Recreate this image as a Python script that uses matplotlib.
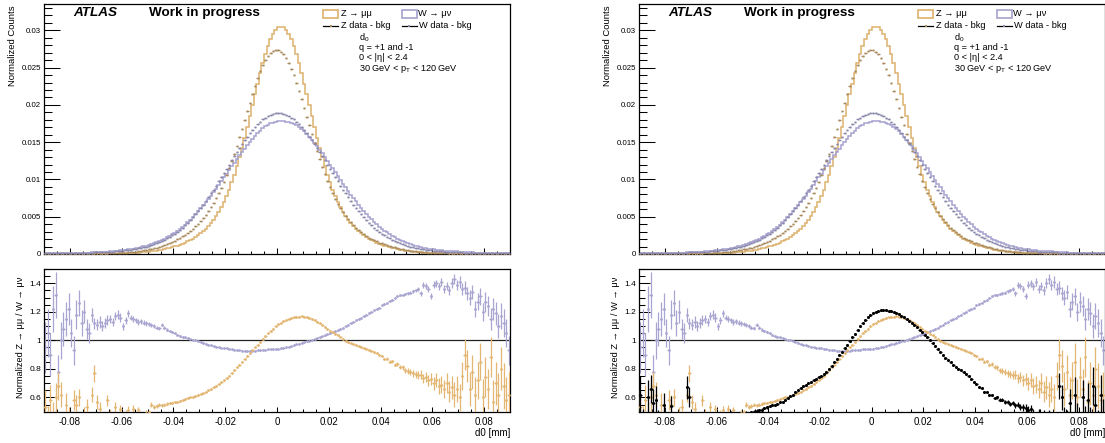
import numpy as np
import matplotlib
matplotlib.use("Agg")
import matplotlib.pyplot as plt
from matplotlib.ticker import MultipleLocator, FuncFormatter
from matplotlib.patches import Rectangle
from matplotlib.lines import Line2D

plt.rcParams['font.family'] = ['Liberation Sans', 'DejaVu Sans']
plt.rcParams['mathtext.fontset'] = 'custom'
plt.rcParams['mathtext.rm'] = 'Liberation Sans'
plt.rcParams['mathtext.it'] = 'Liberation Sans:italic'
plt.rcParams['mathtext.default'] = 'regular'
plt.rcParams['axes.unicode_minus'] = False

# ---------------- data ----------------
BIN_LO = -0.09
BIN_W = 0.001
N_BINS = 180

# top panel: normalized counts, in units of 1e-5
Z_MC_E5 = [0,0,0,0,0,0,0,0,0,0,0,0,0,
 0,0,0,1,1, 1,1,2,2,2, 3,3,4,4,5, 6,7,8,9,11, 12,14,16,19,22,
 25,28,32,36,41, 46,52,59,66,74, 83,92,102,114,126, 139,154,170,188,207,
 228,252,278,306,338, 374,414,459,510,566, 629,700,778,864,960, 1064,1176,1297,1426,1562,
 1703,1848,1995,2143,2287, 2427,2558,2679,2786,2878, 2952,3006,3039,3050,3039,
 3006,2952,2878,2786,2679, 2558,2427,2287,2143,1995, 1848,1703,1562,1426,1297,
 1176,1064,960,864,778, 700,629,566,510,459, 414,374,338,306,278, 252,228,207,188,170,
 154,139,126,114,102, 92,83,74,66,59, 52,46,41,36,32, 28,25,22,19,16,
 14,12,11,9,8, 7,6,5,4,4, 3,3,2,2,2, 1,1,1,1,0, 0,0,0,0,0, 0,0,0,0,0,0,0]

Z_DATA_E5 = [1,1,1,1,1,1,1,1,1,1,1,1,1,
 1,1,2,2,2, 2,2,4,4,4, 6,6,8,8,10, 12,14,16,18,22, 24,28,32,38,44,
 51,57,64,68,77, 85,95,108,120,133, 148,164,180,200,219, 240,261,286,313,342,
 374,408,445,484,528, 575,627,685,750,817, 891,972,1059,1149,1247, 1347,1452,1563,1678,1795,
 1913,2031,2145,2256,2358, 2452,2533,2601,2653,2697, 2726,2738,2733,2714,2678,
 2628,2565,2487,2398,2300, 2192,2078,1961,1844,1724, 1607,1491,1380,1273,1172,
 1075,985,899,817,743, 675,614,560,512,466, 423,385,350,319,291, 266,242,221,203,185,
 169,154,142,130,118, 108,98,89,80,72, 65,58,52,46,42, 37,33,29,26,22,
 19,17,15,13,11, 10,9,7,6,6, 5,5,3,3,3, 2,2,2,1,1, 1,1,1,1,1, 1,1,1,1,1,1,1]

W_MC_E5 = [7,8,8,8,9,9,10,12,12,13, 14,14,15,16,17,18,19,20,22,24,
 25,27,28,31,33,35,38,41,45,48, 52,56,61,67,72,79,85,93,101,111,
 120,132,144,157,172,187,204,224,244,265, 288,311,336,364,395,426,461,495,533,572,
 613,652,695,738,784,829,878,926,977,1027, 1078,1128,1177,1226,1274,1322,1367,1413,1457,1500,
 1542,1583,1621,1655,1687,1712,1733,1751,1763,1773, 1778,1780,1778,1776,1767,1756,1743,1724,1703,1677,
 1645,1611,1572,1531,1488,1444,1398,1350,1300,1250, 1200,1148,1096,1043,991,942,893,845,796,750,
 706,661,618,577,538,500,464,430,398,368, 341,314,290,266,244,225,207,189,173,158,
 144,132,121,111,102,94,86,80,73,68, 63,59,55,50,46,44,41,38,35,34,
 31,29,27,26,24,22,20,19,17,16, 16,14,13,13,12,10,10,9,9,8]

W_DATA_E5 = [7,8,8,8,9,9,10,11,11,12, 13,13,14,15,16,17,18,19,20,21,
 22,24,25,27,29,31,33,36,39,42, 45,49,53,58,63,69,75,82,90,99,
 108,119,131,144,158,173,190,209,229,250, 274,299,326,355,387,420,456,493,533,575,
 619,664,711,761,812,864,918,973,1029,1086, 1143,1200,1256,1313,1368,1423,1475,1526,1575,1622,
 1665,1706,1743,1776,1806,1831,1852,1869,1880,1888, 1890,1888,1880,1869,1852,1831,1806,1776,1743,1706,
 1665,1622,1575,1526,1475,1423,1368,1313,1256,1200, 1143,1086,1029,973,918,864,812,761,711,664,
 619,575,533,493,456,420,387,355,326,299, 274,250,229,209,190,173,158,144,131,119,
 108,99,90,82,75,69,63,58,53,49, 45,42,39,36,33,31,29,27,25,24,
 22,21,20,19,18,17,16,15,14,13, 13,12,11,11,10,9,9,8,8,8]

# bottom panel ratios
R_Z = [0.53,0.42,0.58,0.47,0.60,0.68,0.62,0.40,0.55,0.45,
 0.38,0.58,0.55,0.60,0.42,0.47,0.53,0.40,0.62,0.77,
 0.57,0.52,0.45,0.41,0.58,0.48,0.44,0.53,0.46,0.52,
 0.45,0.48,0.51,0.44,0.52,0.46,0.51,0.47,0.48,0.49,
 0.50,0.55,0.53,0.54,0.55,0.545,0.55,0.555,0.56,0.562,
 0.566,0.57,0.575,0.58,0.59,0.595,0.60,0.605,0.61,0.617,
 0.625,0.632,0.64,0.65,0.66,0.67,0.68,0.693,0.706,0.72,
 0.735,0.752,0.77,0.79,0.81,0.83,0.85,0.87,0.89,0.91,
 0.93,0.95,0.97,0.99,1.01,1.03,1.05,1.067,1.083,1.098,
 1.112,1.124,1.135,1.144,1.151,1.157,1.162,1.165,1.167,1.168,
 1.166,1.162,1.157,1.15,1.142,1.132,1.12,1.107,1.094,1.08,
 1.068,1.057,1.047,1.037,1.025,1.01,0.996,0.985,0.978,0.972,
 0.966,0.96,0.954,0.948,0.942,0.935,0.928,0.92,0.91,0.90,
 0.892,0.87,0.872,0.85,0.852,0.83,0.835,0.812,0.81,0.79,
 0.786,0.778,0.77,0.762,0.755,0.76,0.735,0.745,0.72,0.73,
 0.70,0.72,0.68,0.69,0.66,0.70,0.64,0.67,0.62,0.66,
 0.60,0.75,0.90,0.82,0.66,0.78,0.62,0.72,0.85,0.60,
 0.74,0.66,0.88,0.57,0.70,0.62,0.80,0.68,0.58,0.62]
R_Z_ERR = [.12,.12,.11,.10,.10,.10,.09,.08,.08,.08,
 .07,.07,.07,.06,.06,.06,.06,.05,.05,.06,
 .05,.05,.05,.04,.04,.04,.04,.035,.035,.03,
 .03,.03,.03,.025,.025,.025,.02,.02,.02,.02,
 .015,.015,.014,.013,.012,.011,.01,.01,.009,.008,
 .008,.007,.007,.007,.006,.006,.006,.006,.005,.005] + [.005]*66 + \
 [.006,.006,.007,.007,.008,.009,.01,.011,.012,.013,
 .014,.015,.016,.018,.02,.022,.024,.026,.028,.03,
 .032,.035,.038,.04,.045,.05,.055,.06,.065,.07,.075,.08,.085,.09,.095,
 .10,.11,.11,.12,.12,.12,.13,.13,.13,.14,.14,.14,.15,.15,.15,.15,.16,.16,.16]

R_W = [0.95,1.05,0.90,1.22,1.32,0.78,1.00,1.08,1.15,1.22,
 1.05,0.93,1.18,1.26,1.12,1.20,1.08,1.05,1.18,1.12,
 1.11,1.13,1.10,1.12,1.14,1.15,1.13,1.17,1.18,1.16,
 1.10,1.14,1.19,1.16,1.15,1.14,1.13,1.135,1.125,1.12,
 1.115,1.11,1.10,1.09,1.085,1.11,1.09,1.075,1.065,1.06,
 1.05,1.04,1.03,1.025,1.02,1.015,1.01,1.005,1.0,0.995,
 0.99,0.982,0.977,0.97,0.965,0.96,0.956,0.952,0.949,0.946,
 0.943,0.94,0.937,0.934,0.931,0.929,0.927,0.926,0.925,0.925,
 0.926,0.928,0.93,0.932,0.934,0.935,0.936,0.937,0.938,0.939,
 0.941,0.943,0.946,0.95,0.954,0.959,0.965,0.971,0.977,0.983,
 0.988,0.993,0.998,1.003,1.009,1.015,1.022,1.028,1.035,1.042,
 1.05,1.057,1.065,1.072,1.08,1.09,1.10,1.11,1.12,1.13,
 1.14,1.15,1.16,1.17,1.18,1.19,1.20,1.21,1.22,1.23,
 1.245,1.255,1.265,1.275,1.285,1.30,1.31,1.315,1.32,1.325,
 1.33,1.335,1.345,1.35,1.36,1.33,1.39,1.38,1.36,1.31,
 1.39,1.40,1.38,1.41,1.36,1.38,1.35,1.40,1.43,1.39,
 1.41,1.36,1.37,1.33,1.30,1.34,1.22,1.27,1.31,1.20,
 1.27,1.24,1.15,1.22,1.19,1.10,1.17,1.12,1.05,0.93]
R_W_ERR = [.18,.17,.15,.16,.16,.12,.13,.12,.12,.11,
 .10,.10,.10,.09,.09,.08,.07,.07,.05,.04,
 .04,.04,.035,.035,.035,.03,.03,.03,.03,.03,
 .025,.025,.025,.02,.02,.02,.02,.018,.018,.016,
 .015,.014,.013,.012,.011,.011,.01,.01,.009,.009,
 .008,.008,.007,.007,.006,.006,.006,.005,.005,.005,
 .005,.005,.005,.004,.004,.004,.004,.004,.004,.004] + [.004]*60 + \
 [.005,.005,.005,.006,.006,.006,.007,.007,.008,.008,
 .009,.01,.011,.012,.015,.016,.02,.02,.02,.02,
 .025,.025,.025,.03,.03,.03,.03,.035,.035,.035,
 .04,.04,.045,.045,.05,.05,.055,.06,.06,.065,
 .07,.07,.075,.08,.08,.085,.09,.1,.1,.1]

R_BLACK = [0.62,0.40,0.35,0.60,0.66,0.56,0.58,0.42,0.38,0.55,
 0.40,0.35,0.54,0.42,0.38,0.35,0.40,0.36,0.67,0.60,
 0.42,0.38,0.40,0.44,0.41,0.45,0.42,0.40,0.45,0.43,
 0.46,0.44,0.45,0.47,0.46,0.48,0.47,0.46,0.48,0.47,
 0.485,0.49,0.48,0.495,0.50,0.505,0.51,0.515,0.525,0.53,
 0.54,0.545,0.55,0.555,0.565,0.57,0.58,0.595,0.61,0.62,
 0.635,0.65,0.665,0.68,0.69,0.70,0.71,0.72,0.73,0.74,
 0.75,0.765,0.78,0.80,0.82,0.845,0.87,0.895,0.92,0.945,
 0.97,0.995,1.02,1.045,1.07,1.10,1.125,1.145,1.165,1.18,
 1.19,1.198,1.205,1.21,1.212,1.212,1.208,1.203,1.197,1.19,
 1.182,1.172,1.162,1.15,1.138,1.124,1.108,1.092,1.075,1.057,
 1.04,1.022,1.004,0.983,0.96,0.94,0.92,0.895,0.875,0.86,
 0.845,0.83,0.815,0.80,0.79,0.775,0.765,0.75,0.73,0.71,
 0.695,0.675,0.665,0.64,0.635,0.62,0.615,0.595,0.60,0.585,
 0.585,0.57,0.57,0.555,0.56,0.545,0.55,0.535,0.53,0.525,
 0.51,0.52,0.49,0.47,0.49,0.46,0.48,0.44,0.47,0.42,
 0.45,0.40,0.68,0.60,0.45,0.42,0.56,0.40,0.62,0.45,
 0.38,0.60,0.42,0.58,0.40,0.68,0.55,0.38,0.62,0.45]
R_BLACK_ERR = [.13,.12,.12,.12,.10,.10,.10,.09,.09,.08,
 .08,.08,.07,.07,.07,.06,.06,.06,.08,.07,
 .05,.05,.05,.05,.04,.04,.04,.04,.035,.035,
 .03,.03,.03,.03,.025,.025,.02,.02,.02,.02,
 .015,.015,.014,.013,.012,.011,.01,.01,.009,.009,
 .008,.008,.007,.007,.007,.006,.006,.006,.005,.005] + [.005]*76 + \
 [.008,.009,.01,.011,.012,.013,.014,.015,.016,.018,
 .02,.022,.024,.026,.028,.03,.03,
 .03,.03,.035,.035,.04,.04,.05,.05,.06,.09,
 .09,.08,.09,.10,.10,.12,.11,.11,.12,.12,
 .12,.13,.13,.13,.13,.14,.14]

TICKS_X = [-0.08, -0.06, -0.04, -0.02, 0, 0.02, 0.04, 0.06, 0.08]

# ---------------- styling ----------------
C_ZMC = '#DDB16C'
C_WMC = '#A5A2CF'
C_ZDATA = '#A98B5E'
C_WDATA = '#8B88AD'
C_RZ = '#E3B672'
C_RW = '#A9A5D1'

W, H = 1105, 443
fig = plt.figure(figsize=(W / 100, H / 100), dpi=100)


def fx(px):
    return px / W


def fy(py):
    return 1 - py / H


edges = BIN_LO + BIN_W * np.arange(N_BINS + 1)
centers = edges[:-1] + BIN_W / 2
zmc = np.array(Z_MC_E5) * 1e-5
zdata = np.array(Z_DATA_E5) * 1e-5
wmc = np.array(W_MC_E5) * 1e-5
wdata = np.array(W_DATA_E5) * 1e-5

fmt = FuncFormatter(lambda v, p: ('%g' % round(v, 6)))


def style_axis(ax, ylen, yminlen, xlen, xminlen, ysize, xsize, xpad):
    for s in ax.spines.values():
        s.set_linewidth(0.9)
        s.set_color('black')
    ax.tick_params(axis='y', which='major', direction='in', length=ylen, width=0.75,
                   labelsize=ysize, pad=2.2, left=True, right=False)
    ax.tick_params(axis='y', which='minor', direction='in', length=yminlen, width=0.75,
                   left=True, right=False)
    ax.tick_params(axis='x', which='major', direction='in', length=xlen, width=0.75,
                   labelsize=xsize, pad=xpad, bottom=True, top=False)
    ax.tick_params(axis='x', which='minor', direction='in', length=xminlen, width=0.75,
                   bottom=True, top=False)
    ax.xaxis.set_major_locator(MultipleLocator(0.02))
    ax.xaxis.set_minor_locator(MultipleLocator(0.005))


for off, with_black in [(0, False), (595, True)]:
    x0 = 44 + off
    wid = 466 if off == 0 else 465.5
    axt = fig.add_axes([fx(x0), fy(254), wid / W, (254 - 4.3) / H])
    axb = fig.add_axes([fx(x0), fy(411.7), wid / W, (411.7 - 269) / H])

    # ---- top panel ----
    axt.stairs(zmc, edges, color=C_ZMC, lw=1.1, zorder=2)
    axt.stairs(wmc, edges, color=C_WMC, lw=1.1, zorder=2)
    axt.errorbar(centers, zdata, xerr=BIN_W / 2, fmt='s', ms=1.3, mew=0,
                 color=C_ZDATA, elinewidth=0.9, capsize=0, zorder=3)
    axt.errorbar(centers, wdata, xerr=BIN_W / 2, fmt='s', ms=1.3, mew=0,
                 color=C_WDATA, elinewidth=0.9, capsize=0, zorder=3)
    axt.set_xlim(-0.09, 0.09)
    axt.set_ylim(0, 0.0335)
    style_axis(axt, 11.2, 5.8, 4.1, 2.1, 5.7, 6, 3)
    axt.yaxis.set_major_locator(MultipleLocator(0.005))
    axt.yaxis.set_minor_locator(MultipleLocator(0.001))
    axt.yaxis.set_major_formatter(fmt)
    axt.set_xticks(TICKS_X)
    axt.tick_params(axis='x', labelbottom=False)

    # ---- bottom panel ----
    axb.axhline(1.0, color='#222222', lw=0.9, zorder=1)
    axb.errorbar(centers, R_W, yerr=R_W_ERR, xerr=BIN_W / 2, fmt='o', ms=1.9, mew=0,
                 color=C_RW, elinewidth=0.9, capsize=0, zorder=2)
    axb.errorbar(centers, R_Z, yerr=R_Z_ERR, xerr=BIN_W / 2, fmt='o', ms=1.9, mew=0,
                 color=C_RZ, elinewidth=0.9, capsize=0, zorder=3)
    if with_black:
        axb.errorbar(centers, R_BLACK, yerr=R_BLACK_ERR, xerr=BIN_W / 2, fmt='o', ms=2.2,
                     mew=0, color='black', elinewidth=0.9, capsize=0, zorder=4)
    axb.set_xlim(-0.09, 0.09)
    axb.set_ylim(0.5, 1.5)
    style_axis(axb, 8.1, 4.1, 3.8, 1.9, 6, 7, 3.6)
    axb.set_yticks([0.6, 0.8, 1.0, 1.2, 1.4])
    axb.yaxis.set_minor_locator(MultipleLocator(0.05))
    axb.yaxis.set_major_formatter(fmt)
    axb.set_xticks(TICKS_X)
    axb.xaxis.set_major_formatter(fmt)

    # ---- texts ----
    fig.text(fx(13 + off), fy(5), 'Normalized Counts', rotation=90, ha='center', va='top',
             fontsize=6.8)
    fig.text(fx(21 + off), fy(277), 'Normalized Z \u2192 \u03bc\u03bc / W \u2192 \u03bc\u03bd',
             rotation=90, ha='center', va='top', fontsize=6.7)
    fig.text(fx(510 + off), fy(433), 'd0 [mm]', ha='right', va='center', fontsize=7)
    fig.text(fx(73 + off), fy(13.3), 'ATLAS', fontsize=9.7, fontweight='bold',
             style='italic', va='center', ha='left')
    fig.text(fx(149 + off), fy(13.3), 'Work in progress', fontsize=9.7, fontweight='bold',
             va='center', ha='left')

    # legend
    fig.patches.append(Rectangle((fx(323.3 + off), fy(17.7)), 15 / W, 8 / H,
                                 transform=fig.transFigure, fill=False,
                                 edgecolor=C_ZMC, lw=1.2))
    fig.patches.append(Rectangle((fx(401.7 + off), fy(17.7)), 15 / W, 8 / H,
                                 transform=fig.transFigure, fill=False,
                                 edgecolor=C_WMC, lw=1.2))
    fig.text(fx(341 + off), fy(15.8), 'Z \u2192 \u03bc\u03bc', fontsize=6.7, va='baseline')
    fig.text(fx(418 + off), fy(15.8), 'W \u2192 \u03bc\u03bd', fontsize=6.7, va='baseline')
    for lx, mc, lab in [(323.3, C_ZDATA, 'Z data - bkg'), (401.7, C_WDATA, 'W data - bkg')]:
        fig.lines.append(Line2D([fx(lx + off), fx(lx + 15 + off)], [fy(25.7), fy(25.7)],
                                transform=fig.transFigure, color='black', lw=0.9))
        fig.lines.append(Line2D([fx(lx + 7.5 + off)], [fy(25.7)], transform=fig.transFigure,
                                marker='s', ms=1.5, mew=0, color=mc, linestyle='none'))
        fig.text(fx(lx + 17.5 + off), fy(28.3), lab, fontsize=6.7, va='baseline')
    fig.text(fx(359 + off), fy(40), 'd$_0$', fontsize=6.6, va='baseline')
    fig.text(fx(359 + off), fy(50), 'q = +1 and -1', fontsize=6.6, va='baseline')
    fig.text(fx(359 + off), fy(60.5), '0 < |\u03b7| < 2.4', fontsize=6.6, va='baseline')
    fig.text(fx(359 + off), fy(71), '30 GeV < p$_T$ < 120 GeV', fontsize=6.6, va='baseline')

fig.savefig('out.png', dpi=100)
